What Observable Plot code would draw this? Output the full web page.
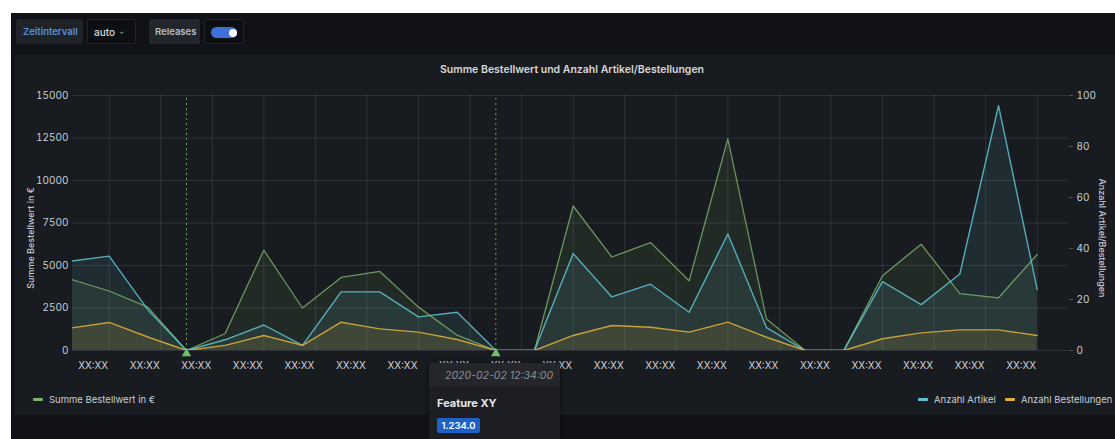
<!DOCTYPE html>
<html>
<head>
<meta charset="utf-8">
<script src="https://cdn.jsdelivr.net/npm/d3@7"></script>
<script src="https://cdn.jsdelivr.net/npm/@observablehq/plot@0.6"></script>
<style>
  html, body { margin: 0; padding: 0; background: #ffffff; }
  body { width: 1115px; height: 439px; position: relative; overflow: hidden; font-family: Inter, Roboto, "Noto Sans", sans-serif; }
  .page { position: absolute; left: 11px; top: 13px; width: 1104px; height: 426px; background: #111217; }
  .abs { position: absolute; }
  .btn { position: absolute; top: 19px; height: 25px; box-sizing: border-box; display: flex; align-items: center; font-size: 9.5px; font-weight: 600; border-radius: 2px; }
  .panel { position: absolute; left: 15px; top: 55px; width: 1100px; height: 360px; background: #181b1f; }
  #chart { position: absolute; left: 0; top: 0; }
  .title { position: absolute; top: 63px; left: 0; width: 1144px; text-align: center; font-size: 10.5px; font-weight: 600; color: #d8d9da; }
  .ylab { position: absolute; font-size: 9px; color: #c7d0d9; white-space: nowrap; font-weight: 500; }
  .leg { position: absolute; top: 394px; font-size: 9.5px; color: #c7d0d9; display: flex; align-items: center; white-space: nowrap; }
  .sw { display: inline-block; width: 10px; height: 3px; border-radius: 1px; margin-right: 6px; }
  .tip { position: absolute; left: 429px; top: 363px; width: 131px; height: 80px; background: #1c1e23; box-shadow: 0 2px 6px rgba(0,0,0,0.5); }
  .tiphead { height: 24px; background: #24262b; color: #8e9095; font-style: italic; font-size: 10.5px; display: flex; align-items: center; justify-content: flex-end; padding-right: 7px; }
</style>
</head>
<body>
<div class="page"></div>
<!-- top bar -->
<div class="btn" style="left:16px;width:67px;background:#1f2227;color:#5b8fdd;padding-left:7px;">Zeitintervall</div>
<div class="btn" style="left:87px;width:49px;background:#0e0f13;border:1px solid #202328;color:#d8d9da;padding-left:6px;font-weight:500;font-size:10px;">auto <span style="font-size:7px;margin-left:4px;color:#9fa3a8;">&#8964;</span></div>
<div class="btn" style="left:149px;width:51px;background:#22252b;color:#b9bec4;padding-left:6px;">Releases</div>
<div class="btn" style="left:204px;width:40px;background:#0e0f13;border:1px solid #202328;">
  <div class="abs" style="left:6px;top:7px;width:26px;height:11px;border-radius:6px;background:#3d71d9;"></div>
  <div class="abs" style="left:24px;top:8.5px;width:8px;height:8px;border-radius:4px;background:#ffffff;"></div>
</div>
<div class="panel"></div>
<div class="title">Summe Bestellwert und Anzahl Artikel/Bestellungen</div>
<div id="chart"></div>
<div class="ylab" id="ylabL" style="left:30px;top:238px;transform:translate(-50%,-50%) rotate(-90deg);">Summe Bestellwert in €</div>
<div class="ylab" id="ylabR" style="left:1102px;top:238px;transform:translate(-50%,-50%) rotate(90deg);">Anzahl Artikel/Bestellungen</div>
<div class="leg" id="legL" style="left:33px;"></div>
<div class="leg" id="legR" style="left:918px;"></div>
<div class="tip">
  <div class="tiphead">2020-02-02 12:34:00</div>
  <div style="position:absolute;left:8px;top:33px;font-size:11px;font-weight:700;color:#e6e7e8;">Feature XY</div>
  <div style="position:absolute;left:8px;top:55px;width:43px;height:15px;background:#1f60c4;border-radius:2px;color:#ffffff;font-size:9.5px;font-weight:600;display:flex;align-items:center;justify-content:center;">1.234.0</div>
</div>
<script>
// ---- data (15-minute slots) ----
const slots = [0,1,2,3,4,5,6,7,8,9,10,11,12,13,14,15,16,17,18,19,20,21,22,23,24,25];
const summeBestellwert = [4200,3500,2550,0,1000,5900,2500,4300,4650,2550,900,0,0,8500,5500,6350,4100,12450,1850,0,0,4400,6250,3350,3100,5650];
const anzahlArtikel = [35,37,16,0,4.2,10,2,23,23,13.2,15,0,0,38,21,26,15,45.7,9,0,0,27,18,30,96,24];
const anzahlBestellungen = [8.8,11,5.3,0,2,5.9,2,11.1,8.5,7.2,4.3,0,0,5.9,9.8,9.1,7.2,11.1,5.2,0,0,4.6,6.9,8.1,8.1,5.9];
const releaseSlots = [3, 11];
// time axis ticks every 20 minutes (4/3 slot), first at slot 1
const xTickSlots = [1, 7/3, 11/3, 5, 19/3, 23/3, 9, 31/3, 35/3, 13, 43/3, 47/3, 17, 55/3, 59/3, 21, 67/3, 71/3, 25];
const xTickLabels = ["XX:XX","XX:XX","XX:XX","XX:XX","XX:XX","XX:XX","XX:XX","XX:XX","XX:XX","XX:XX","XX:XX","XX:XX","XX:XX","XX:XX","XX:XX","XX:XX","XX:XX","XX:XX","XX:XX"];
const leftTicks = [0,2500,5000,7500,10000,12500,15000];
const rightTicks = [0,20,40,60,80,100];
const seriesNames = ["Summe Bestellwert in €", "Anzahl Artikel", "Anzahl Bestellungen"];

const colors = {green: "#7EB26D", cyan: "#5fc3d3", yellow: "#e0b03a"};
const leftMax = 15000, rightMax = 100, k = leftMax / rightMax;

const rows = slots.map((s, i) => ({slot: s, summe: summeBestellwert[i], artikel: anzahlArtikel[i] * k, bestellungen: anzahlBestellungen[i] * k}));
const releases = releaseSlots.map(s => ({slot: s}));

const chart = Plot.plot({
  width: 1115, height: 390,
  marginLeft: 72, marginRight: 47, marginTop: 95, marginBottom: 40,
  style: {background: "transparent", color: "#c7d0d9", fontFamily: "Inter, Roboto, sans-serif", fontSize: "10px", overflow: "visible"},
  x: {domain: [0.052, 25.81]},
  y: {domain: [0, leftMax]},
  marks: [
    Plot.gridY(leftTicks, {stroke: "#ccccdc", strokeOpacity: 0.13}),
    Plot.gridX(xTickSlots, {stroke: "#ccccdc", strokeOpacity: 0.13}),
    Plot.areaY(rows, {x: "slot", y: "summe", fill: colors.green, fillOpacity: 0.1, clip: true}),
    Plot.areaY(rows, {x: "slot", y: "artikel", fill: colors.cyan, fillOpacity: 0.1, clip: true}),
    Plot.areaY(rows, {x: "slot", y: "bestellungen", fill: colors.yellow, fillOpacity: 0.12, clip: true}),
    Plot.lineY(rows, {x: "slot", y: "summe", stroke: colors.green, strokeWidth: 1.3, strokeOpacity: 0.8, clip: true}),
    Plot.lineY(rows, {x: "slot", y: "artikel", stroke: colors.cyan, strokeWidth: 1.4, strokeOpacity: 0.85, clip: true}),
    Plot.lineY(rows, {x: "slot", y: "bestellungen", stroke: colors.yellow, strokeWidth: 1.4, strokeOpacity: 0.85, clip: true}),
    Plot.ruleX(releases, {x: "slot", y1: 0, y2: leftMax, stroke: "#73bf69", strokeDasharray: "2,3", strokeOpacity: 0.8}),
    Plot.dot(releases, {x: "slot", y: 0, symbol: "triangle", r: 3.5, fill: "#73bf69", dy: 3}),
    Plot.axisY({anchor: "left", ticks: leftTicks, tickFormat: d => String(d), tickSize: 0, tickPadding: 4, label: null, fill: "#c7d0d9"}),
    Plot.axisY({anchor: "right", ticks: rightTicks.map(d => d * k), tickFormat: d => String(Math.round(d / k)), tickSize: 4, tickPadding: 4, label: null, stroke: "#ccccdc", strokeOpacity: 0.3, fill: "#c7d0d9"}),
    Plot.axisX({ticks: xTickSlots, tickFormat: (d, i) => xTickLabels[i], tickSize: 0, tickPadding: 11, textAnchor: "end", dx: -1, label: null, fill: "#d0d3d8"})
  ]
});
document.getElementById("chart").appendChild(chart);

// legends
function legendItem(name, color, mr) {
  return `<span class="sw" style="background:${color}"></span><span style="margin-right:${mr}px">${name}</span>`;
}
document.getElementById("legL").innerHTML = legendItem(seriesNames[0], colors.green, 0);
document.getElementById("legR").innerHTML = legendItem(seriesNames[1], colors.cyan, 9) + legendItem(seriesNames[2], colors.yellow, 0);
</script>
</body>
</html>
